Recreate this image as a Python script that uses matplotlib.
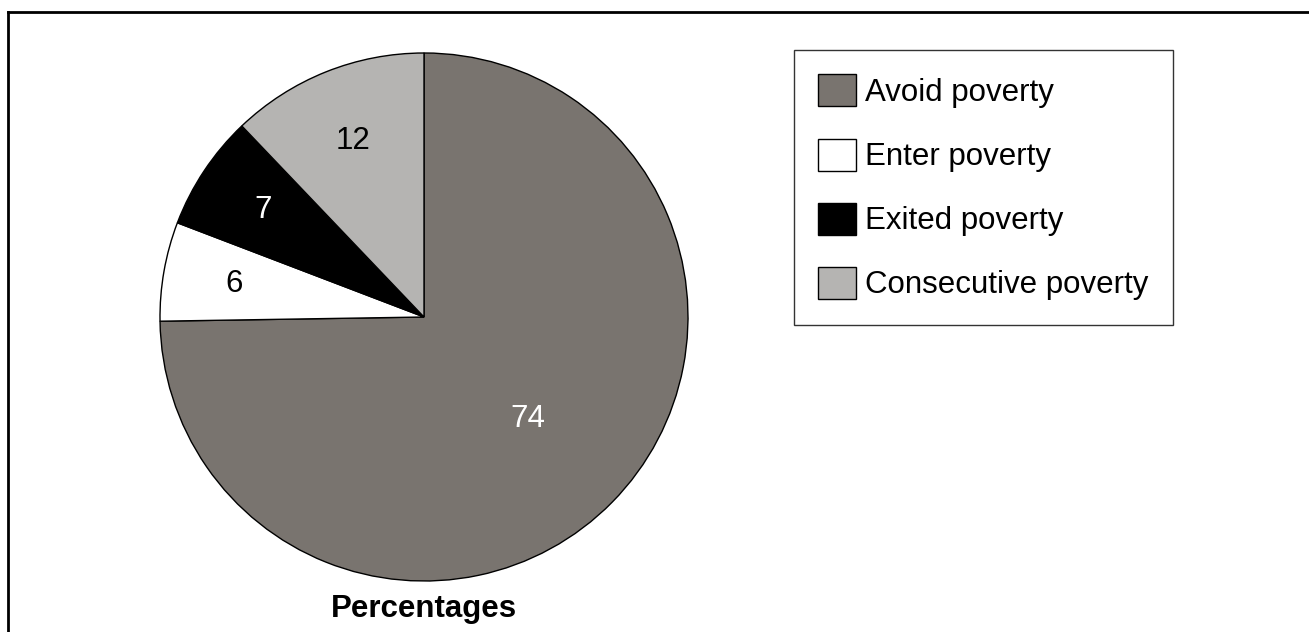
import numpy as np
import matplotlib
matplotlib.use("Agg")
import matplotlib.pyplot as plt
from matplotlib.lines import Line2D

plt.rcParams['font.family'] = ['Liberation Sans', 'DejaVu Sans']

categories = ["Avoid poverty", "Enter poverty", "Exited poverty", "Consecutive poverty"]
values = [74, 6, 7, 12]
colors = ["#79746f", "#ffffff", "#000000", "#b5b4b2"]
label_colors = ["white", "black", "white", "black"]
label_radius = [0.55, 0.73, 0.73, 0.72]

W, H = 1309, 632
fig = plt.figure(figsize=(W / 100, H / 100), dpi=100)

# pie axes: radius 1 spans 264 px, centred at (424, 317) from the top
R = 264
cx, cy = 424, 317
ax = fig.add_axes([(cx - R) / W, (H - cy - R) / H, 2 * R / W, 2 * R / H])
wedges, _ = ax.pie(values, colors=colors, startangle=90, counterclock=False,
                   wedgeprops=dict(edgecolor="black", linewidth=1.0))
ax.set_xlim(-1, 1)
ax.set_ylim(-1, 1)
ax.set_aspect("equal")
ax.axis("off")

FS = 22.5

for w, v, c, rr in zip(wedges, values, label_colors, label_radius):
    mid = np.deg2rad((w.theta1 + w.theta2) / 2)
    ax.text(rr * np.cos(mid), rr * np.sin(mid), str(v), ha="center", va="center",
            fontsize=FS, color=c)

fig.text(cx / W, 1 - 609 / H, "Percentages", ha="center", va="center",
         fontsize=FS, fontweight="bold")

leg = fig.legend(wedges, categories, loc="upper left",
                 bbox_to_anchor=(794 / W, 1 - 50 / H),
                 fontsize=FS, frameon=True, fancybox=False, shadow=False,
                 handlelength=1.2, handleheight=1.2, handletextpad=0.3,
                 labelspacing=0.98, borderpad=0.78, borderaxespad=0.0)
leg.get_frame().set_edgecolor("black")
leg.get_frame().set_linewidth(1.0)

# outer frame (top and left edges)
fig.add_artist(Line2D([8 / W, 1.0], [1 - 12 / H, 1 - 12 / H], transform=fig.transFigure,
                      color="black", linewidth=2.0, solid_capstyle="projecting"))
fig.add_artist(Line2D([8 / W, 8 / W], [0.0, 1 - 12 / H], transform=fig.transFigure,
                      color="black", linewidth=2.0, solid_capstyle="projecting"))

fig.savefig("out.png", dpi=100)
